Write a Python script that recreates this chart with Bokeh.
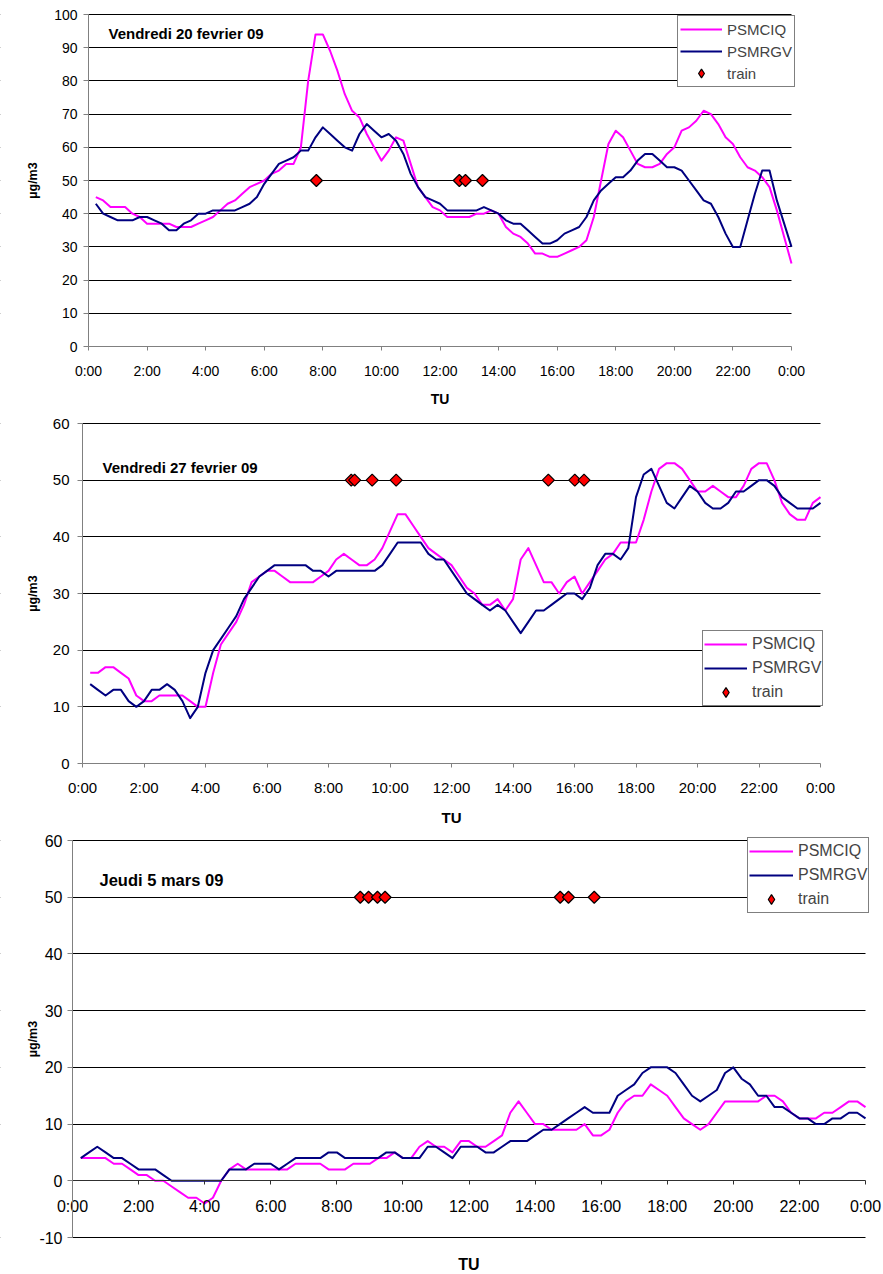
import math
from bokeh.plotting import figure
from bokeh.layouts import column
from bokeh.models import (Range1d, FixedTicker, Legend, LegendItem, Label,
                          BoxAnnotation)
from bokeh.embed import file_html
from bokeh.resources import INLINE

# quarter-hour samples: 0:15 ... 24:00 (hours after midnight)
sample_hours = [k / 4 for k in range(1, 97)]
tick_hours = [0, 2, 4, 6, 8, 10, 12, 14, 16, 18, 20, 22, 24]
tick_labels = ["0:00", "2:00", "4:00", "6:00", "8:00", "10:00", "12:00",
               "14:00", "16:00", "18:00", "20:00", "22:00", "0:00"]
series_names = ["PSMCIQ", "PSMRGV", "train"]

# ---- Vendredi 20 fevrier 09 ----
c1_title = "Vendredi 20 fevrier 09"
c1_psmciq = [45, 44, 42, 42, 42, 40, 39, 37, 37, 37,
             37, 36, 36, 36, 37, 38, 39, 41, 43, 44,
             46, 48, 49, 50, 52, 53, 55, 55, 60, 80,
             94, 94, 89, 83, 76, 71, 69, 64, 60, 56,
             59, 63, 62, 55, 48, 45, 42, 41, 39, 39,
             39, 39, 40, 40, 41, 40, 36, 34, 33, 31,
             28, 28, 27, 27, 28, 29, 30, 32, 39, 50,
             61, 65, 63, 59, 55, 54, 54, 55, 58, 60,
             65, 66, 68, 71, 70, 67, 63, 61, 57, 54,
             53, 51, 48, 41, 33, 25]
c1_psmrgv = [43, 40, 39, 38, 38, 38, 39, 39, 38, 37,
             35, 35, 37, 38, 40, 40, 41, 41, 41, 41,
             42, 43, 45, 49, 52, 55, 56, 57, 59, 59,
             63, 66, 64, 62, 60, 59, 64, 67, 65, 63,
             64, 62, 58, 52, 48, 45, 44, 43, 41, 41,
             41, 41, 41, 42, 41, 40, 38, 37, 37, 35,
             33, 31, 31, 32, 34, 35, 36, 39, 44, 47,
             49, 51, 51, 53, 56, 58, 58, 56, 54, 54,
             53, 50, 47, 44, 43, 39, 34, 30, 30, 38,
             46, 53, 53, 44, 37, 30]
c1_train_time = [7.78, 12.66, 12.87, 13.45]
c1_train_level = [50, 50, 50, 50]

# ---- Vendredi 27 fevrier 09 ----
c2_title = "Vendredi 27 fevrier 09"
c2_psmciq = [16, 16, 17, 17, 16, 15, 12, 11, 11, 12,
             12, 12, 12, 11, 10, 10, 16, 21, 23, 25,
             28, 32, 33, 34, 34, 33, 32, 32, 32, 32,
             33, 34, 36, 37, 36, 35, 35, 36, 38, 41,
             44, 44, 42, 40, 38, 37, 36, 35, 33, 31,
             30, 28, 28, 29, 27, 29, 36, 38, 35, 32,
             32, 30, 32, 33, 30, 32, 34, 36, 37, 39,
             39, 39, 43, 48, 52, 53, 53, 52, 50, 48,
             48, 49, 48, 47, 47, 49, 52, 53, 53, 50,
             46, 44, 43, 43, 46, 47]
c2_psmrgv = [14, 13, 12, 13, 13, 11, 10, 11, 13, 13,
             14, 13, 11, 8, 10, 16, 20, 22, 24, 26,
             29, 31, 33, 34, 35, 35, 35, 35, 35, 34,
             34, 33, 34, 34, 34, 34, 34, 34, 35, 37,
             39, 39, 39, 39, 37, 36, 36, 34, 32, 30,
             29, 28, 27, 28, 27, 25, 23, 25, 27, 27,
             28, 29, 30, 30, 29, 31, 35, 37, 37, 36,
             38, 47, 51, 52, 49, 46, 45, 47, 49, 48,
             46, 45, 45, 46, 48, 48, 49, 50, 50, 49,
             47, 46, 45, 45, 45, 46]
c2_train_time = [8.74, 8.85, 9.42, 10.20, 15.15, 16.01, 16.31]
c2_train_level = [50, 50, 50, 50, 50, 50, 50]

# ---- Jeudi 5 mars 09 ----
c3_title = "Jeudi 5 mars 09"
c3_psmciq = [4, 4, 4, 4, 3, 3, 2, 1, 1, 0,
             0, -1, -2, -3, -3, -4, -3, 0, 2, 3,
             2, 2, 2, 2, 2, 2, 3, 3, 3, 3,
             2, 2, 2, 3, 3, 3, 4, 4, 5, 4,
             4, 6, 7, 6, 6, 5, 7, 7, 6, 6,
             7, 8, 12, 14, 12, 10, 10, 9, 9, 9,
             9, 10, 8, 8, 9, 12, 14, 15, 15, 17,
             16, 15, 13, 11, 10, 9, 10, 12, 14, 14,
             14, 14, 14, 15, 15, 14, 12, 11, 11, 11,
             12, 12, 13, 14, 14, 13]
c3_psmrgv = [4, 5, 6, 5, 4, 4, 3, 2, 2, 2,
             1, 0, 0, 0, 0, 0, 0, 0, 2, 2,
             2, 3, 3, 3, 2, 3, 4, 4, 4, 4,
             5, 5, 4, 4, 4, 4, 4, 5, 5, 4,
             4, 4, 6, 6, 5, 4, 6, 6, 6, 5,
             5, 6, 7, 7, 7, 8, 9, 9, 10, 11,
             12, 13, 12, 12, 12, 15, 16, 17, 19, 20,
             20, 20, 19, 17, 15, 14, 15, 16, 19, 20,
             18, 17, 15, 15, 13, 13, 12, 11, 11, 10,
             10, 11, 11, 12, 12, 11]
c3_train_time = [8.71, 8.96, 9.23, 9.46, 14.76, 15.01, 15.79]
c3_train_level = [50, 50, 50, 50, 50, 50, 50]

FONT = "Liberation Sans"
PINK = "#FF00FF"
NAVY = "#000080"
W = 883
DAY = 24


def make_chart(title, pink, navy, ttime, tlevel, yr, yticks, grid_ticks, lay):
    # pixel geometry: the frame covers the whole canvas; axes are pinned at zero
    px_day = lay["day_px"] / DAY
    px_unit = lay["plot_h"] / (yr[1] - yr[0])
    x0 = -lay["x0_px"] / px_day
    x1 = (W - lay["x0_px"]) / px_day
    y1 = yr[1] + lay["top_px"] / px_unit
    y0 = yr[1] - (lay["h"] - lay["top_px"]) / px_unit

    p = figure(width=W, height=lay["h"], x_range=Range1d(x0, x1), y_range=Range1d(y0, y1),
               output_backend="svg", toolbar_location=None,
               min_border_left=0, min_border_right=0, min_border_top=0, min_border_bottom=0)
    p.min_border = 0
    p.outline_line_color = None
    p.background_fill_color = "white"
    p.border_fill_color = "white"
    p.xgrid.visible = False
    p.ygrid.ticker = FixedTicker(ticks=grid_ticks)
    p.ygrid.grid_line_color = "black"
    p.ygrid.grid_line_width = 1

    xa = p.xaxis[0]
    xa.fixed_location = 0
    xa.ticker = FixedTicker(ticks=tick_hours)
    xa.major_label_overrides = {h: l for h, l in zip(tick_hours, tick_labels)}
    xa.bounds = (0, DAY)
    xa.minor_tick_line_color = None
    xa.major_tick_in = 0
    xa.major_tick_out = 4
    xa.axis_line_color = lay["xaxis_color"]
    xa.major_tick_line_color = lay["xaxis_color"]
    xa.major_label_text_font = FONT
    xa.major_label_text_font_size = lay["tick_fs"]
    xa.major_label_text_color = "black"
    xa.major_label_standoff = lay["xlab_standoff"]

    ya = p.yaxis[0]
    ya.fixed_location = 0
    ya.ticker = FixedTicker(ticks=yticks)
    ya.major_label_overrides = {v: str(v) for v in yticks}
    ya.bounds = (yticks[0], yticks[-1])
    ya.minor_tick_line_color = None
    ya.major_tick_in = 0
    ya.major_tick_out = 5
    ya.axis_line_color = "#808080"
    ya.major_tick_line_color = "#808080"
    ya.major_label_text_font = FONT
    ya.major_label_text_font_size = lay["tick_fs"]
    ya.major_label_text_color = "black"
    ya.major_label_standoff = lay["ylab_standoff"]

    # white masks so that grid lines only run across the 24 h of the day
    for kw in (dict(left=DAY), dict(right=0)):
        p.add_layout(BoxAnnotation(fill_color="white", fill_alpha=1, line_color=None,
                                   level="underlay", **kw))

    r1 = p.line(sample_hours, pink, line_color=PINK, line_width=2, line_join="round")
    r2 = p.line(sample_hours, navy, line_color=NAVY, line_width=2, line_join="round")
    # train markers: a diamond (used as legend swatch) under a 45-degree square
    r3 = p.scatter(ttime, tlevel, marker="diamond", size=10,
                   fill_color="#FF0000", line_color="black", line_width=1.2)
    p.scatter(ttime, tlevel, marker="square", angle=math.pi / 4, size=8.5,
              fill_color="#FF0000", line_color="black", line_width=1.2)

    leg = Legend(items=[LegendItem(label=series_names[0], renderers=[r1]),
                        LegendItem(label=series_names[1], renderers=[r2]),
                        LegendItem(label=series_names[2], renderers=[r3])],
                 location=lay["leg_loc"], margin=0, padding=lay["leg_pad"],
                 spacing=0, glyph_width=lay["glyph_w"],
                 glyph_height=lay["row_h"], label_height=lay["row_h"],
                 label_standoff=5, border_line_color="black", border_line_width=1,
                 background_fill_color="white", background_fill_alpha=1.0,
                 label_text_font=FONT, label_text_font_size=lay["leg_fs"])
    p.add_layout(leg)

    p.add_layout(Label(x=lay["title_dx"] / px_day, y=yr[1] - lay["title_dy"] / px_unit,
                       text=title, text_font=FONT, text_font_style="bold",
                       text_font_size=lay["title_fs"], text_baseline="middle",
                       text_align="left", text_color="black"))
    p.add_layout(Label(x=-lay["ylabel_dx"] / px_day, y=(yr[0] + yr[1]) / 2, text="µg/m3",
                       angle=math.pi / 2, text_font=FONT, text_font_style="bold",
                       text_font_size="12.5px", text_align="center",
                       text_baseline="middle", text_color="black"))
    p.add_layout(Label(x=DAY / 2, y=yr[0] - lay["tu_dy"] / px_unit, text="TU",
                       text_font=FONT, text_font_style="bold", text_font_size=lay["tu_fs"],
                       text_align="center", text_baseline="middle", text_color="black"))
    return p


# layout in pixels (x0_px: left edge of the day, top_px: top gridline, plot_h: axis height)
lay1 = dict(h=410, x0_px=88, day_px=703, top_px=14, plot_h=332,
            tick_fs="14px", tu_fs="14px", ylabel_dx=56, tu_dy=52,
            xlab_standoff=12, ylab_standoff=6, xaxis_color="#808080",
            leg_loc=(677, 410 - 87), leg_pad=2, glyph_w=42, row_h=22,
            leg_fs="15px", title_dx=20, title_dy=18.5, title_fs="15px")
lay2 = dict(h=420, x0_px=82, day_px=738, top_px=13, plot_h=340,
            tick_fs="15px", tu_fs="15px", ylabel_dx=50, tu_dy=54,
            xlab_standoff=11, ylab_standoff=8, xaxis_color="#808080",
            leg_loc=(702, 420 - 296), leg_pad=1, glyph_w=43, row_h=24,
            leg_fs="16px", title_dx=20, title_dy=43.5, title_fs="15px")
lay3 = dict(h=443, x0_px=72, day_px=793, top_px=10, plot_h=397,
            tick_fs="16px", tu_fs="16px", ylabel_dx=40, tu_dy=27,
            xlab_standoff=13, ylab_standoff=5, xaxis_color="#303030",
            leg_loc=(747, 443 - 83), leg_pad=1, glyph_w=44, row_h=24,
            leg_fs="16px", title_dx=27, title_dy=39, title_fs="16.5px")

p1 = make_chart(c1_title, c1_psmciq, c1_psmrgv, c1_train_time, c1_train_level,
                (0, 100), list(range(0, 101, 10)), list(range(10, 101, 10)), lay1)
p2 = make_chart(c2_title, c2_psmciq, c2_psmrgv, c2_train_time, c2_train_level,
                (0, 60), list(range(0, 61, 10)), list(range(10, 61, 10)), lay2)
p3 = make_chart(c3_title, c3_psmciq, c3_psmrgv, c3_train_time, c3_train_level,
                (-10, 60), list(range(-10, 61, 10)), [-10, 10, 20, 30, 40, 50, 60], lay3)

layout = column(p1, p2, p3, spacing=0)
open("out.html", "w").write(file_html(layout, INLINE))
